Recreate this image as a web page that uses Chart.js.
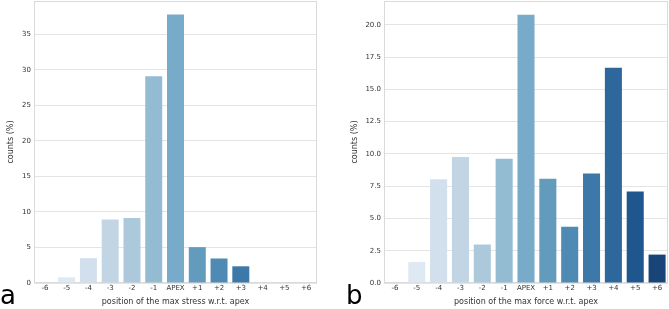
<!DOCTYPE html>
<html>
<head>
<meta charset="utf-8">
<script src="https://cdn.jsdelivr.net/npm/chart.js@4/dist/chart.umd.min.js"></script>
<style>
  body { margin: 0; background: #fff; width: 669px; height: 309px; overflow: hidden; position: relative; font-family: "DejaVu Sans", sans-serif; }
  canvas { position: absolute; top: 0; }
  .lbl { position: absolute; font-family: "DejaVu Sans", sans-serif; font-size: 26px; color: #000; line-height: 1; }
</style>
</head>
<body>
<canvas id="stressChart" width="335" height="309" style="left:0"></canvas>
<canvas id="forceChart" width="334" height="309" style="left:335px"></canvas>
<div class="lbl" style="left:0px;top:282px">a</div>
<div class="lbl" style="left:346px;top:282px">b</div>
<script>
const categories = ['-6', '-5', '-4', '-3', '-2', '-1', 'APEX', '+1', '+2', '+3', '+4', '+5', '+6'];
const stressCounts = [0, 0.8, 3.5, 8.95, 9.15, 29.1, 37.8, 5.05, 3.45, 2.35, 0, 0, 0];
const forceCounts = [0, 1.63, 8.04, 9.75, 2.98, 9.62, 20.78, 8.07, 4.35, 8.49, 16.67, 7.09, 2.2];
const stressTicks = [0, 5, 10, 15, 20, 25, 30, 35];
const forceTicks = [0, 2.5, 5, 7.5, 10, 12.5, 15, 17.5, 20];

// seaborn "Blues", 13 colours, saturation .75
const blues = ['#ebf2f8', '#dee9f3', '#d2e0ed', '#c1d5e5', '#acc9db', '#93bbd2', '#78abc9',
               '#639bbd', '#4e8ab3', '#3c78a8', '#2d679c', '#1f568e', '#184477'];

const frame = {
  id: 'frame',
  beforeDatasetsDraw(chart) {
    const {ctx, chartArea: a} = chart;
    ctx.save();
    ctx.strokeStyle = '#dadada';
    ctx.lineWidth = 1;
    ctx.strokeRect(a.left + 0.5, a.top + 0.5, a.right - a.left - 1, a.bottom - a.top - 1);
    ctx.restore();
  }
};

function makeChart(id, values, ticks, yMax, axisWidth, rightPad, titlePad, xTitle, decimals) {
  return new Chart(document.getElementById(id), {
    type: 'bar',
    data: {
      labels: categories,
      datasets: [{
        data: values,
        backgroundColor: blues,
        barPercentage: 0.78,
        categoryPercentage: 1
      }]
    },
    options: {
      responsive: false,
      animation: false,
      layout: { padding: { top: 1, right: rightPad, left: 0, bottom: 0 } },
      plugins: { legend: { display: false }, tooltip: { enabled: false } },
      scales: {
        x: {
          grid: { display: false, drawTicks: false },
          border: { display: false },
          ticks: { color: '#333', font: { family: 'DejaVu Sans', size: 7 }, padding: 1, maxRotation: 0, autoSkip: false },
          title: { display: true, text: xTitle, color: '#333', font: { family: 'DejaVu Sans', size: 8 }, padding: { bottom: 2, top: 0 } },
          afterFit: s => { s.height = 26; s.paddingLeft = 0; s.paddingRight = 0; }
        },
        y: {
          min: 0,
          max: yMax,
          afterBuildTicks: s => { s.ticks = ticks.map(v => ({ value: v })); },
          grid: { color: '#e4e4e4', drawTicks: false },
          border: { display: false },
          ticks: {
            color: '#333', font: { family: 'DejaVu Sans', size: 7 }, padding: 3,
            callback: v => v.toFixed(decimals)
          },
          title: { display: true, text: 'counts (%)', color: '#333', font: { family: 'DejaVu Sans', size: 8 }, padding: { top: titlePad, bottom: 0 } },
          afterFit: s => { s.width = axisWidth; s.paddingTop = 0; s.paddingBottom = 0; }
        }
      }
    },
    plugins: [frame]
  });
}

makeChart('stressChart', stressCounts, stressTicks, 39.7, 34, 18, 6, 'position of the max stress w.r.t. apex', 0);
makeChart('forceChart', forceCounts, forceTicks, 21.84, 49, 1, 15, 'position of the max force w.r.t. apex', 1);
</script>
</body>
</html>
